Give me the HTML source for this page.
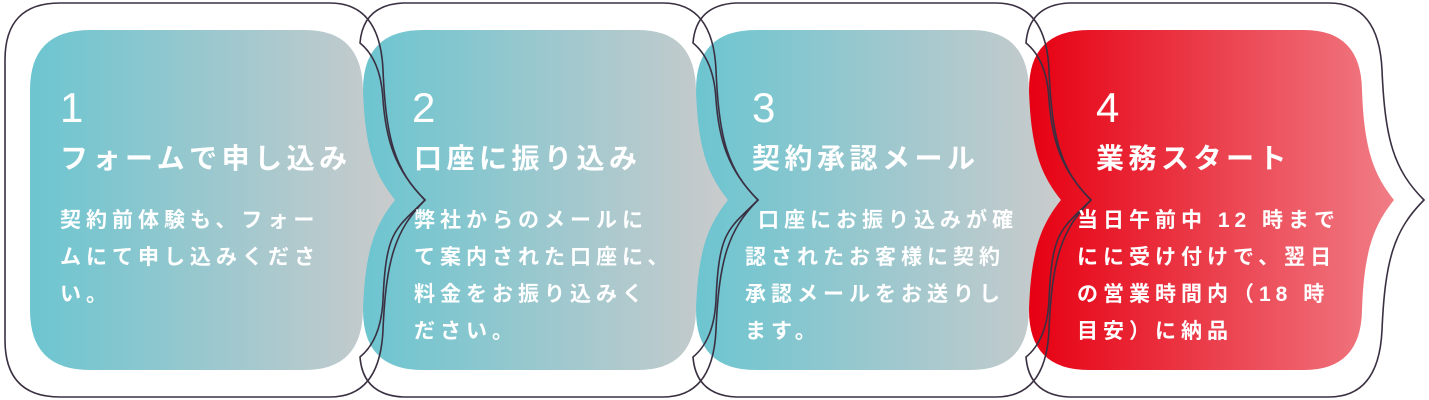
<!DOCTYPE html>
<html><head><meta charset="utf-8"><style>
html,body{margin:0;padding:0;background:#fff;}
svg{display:block;}
.n{font-family:"Liberation Sans Narrow","Liberation Sans",sans-serif;font-size:42px;fill:#fff;}
.t{font-family:"Liberation Sans","Noto Sans CJK JP",sans-serif;font-weight:bold;font-size:28px;fill:#fff;letter-spacing:4.5px;}
.b{font-family:"Liberation Sans","Noto Sans CJK JP",sans-serif;font-weight:bold;font-size:21px;fill:#fff;letter-spacing:5px;}
</style></head><body>
<svg width="1429" height="400" viewBox="0 0 1429 400" xmlns="http://www.w3.org/2000/svg">
<defs>
<linearGradient id="g1" x1="0" x2="1"><stop offset="0" stop-color="#6cc5d0"/><stop offset="1" stop-color="#cacbcc"/></linearGradient>
<linearGradient id="g2" x1="0" x2="1"><stop offset="0" stop-color="#e60012"/><stop offset="1" stop-color="#f07d86"/></linearGradient>
</defs>
<g>
<path fill="url(#g2)" d="M1089,30 H1304 Q1361,30 1362,90 C1364,150 1374,175 1394,200 C1374,225 1364,250 1362,310 Q1361,370 1304,370 H1089 Q1029,370 1029,310 V90 Q1029,30 1089,30 Z"/>
<path fill="url(#g1)" d="M756,30 H971 Q1028,30 1029,90 C1031,150 1041,175 1061,200 C1041,225 1031,250 1029,310 Q1028,370 971,370 H756 Q696,370 696,310 V90 Q696,30 756,30 Z"/>
<path fill="url(#g1)" d="M423,30 H638 Q695,30 696,90 C698,150 708,175 728,200 C708,225 698,250 696,310 Q695,370 638,370 H423 Q363,370 363,310 V90 Q363,30 423,30 Z"/>
<path fill="url(#g1)" d="M90,30 H305 Q362,30 363,90 C365,150 375,175 395,200 C375,225 365,250 363,310 Q362,370 305,370 H90 Q30,370 30,310 V90 Q30,30 90,30 Z"/>
</g>
<g fill="none" stroke="#3a3042" stroke-width="1.6">
<path d="M60,3 H330 Q380,3 383,70 C386,140 395,170 425,200 C395,230 386,260 383,330 Q380,397 330,397 H60 Q5,397 5,340 V60 Q5,3 60,3 Z"/>
<path d="M403,3 H663 Q713,3 716,70 C719,140 728,170 758,200 C728,230 719,260 716,330 Q713,397 663,397 H403 Q363,395 360,357 Q381,340 383,300 C386,230 395,230 425,200 C395,170 386,140 383,100 Q381,60 360,43 Q363,5 403,3 Z"/>
<path d="M736,3 H996 Q1046,3 1049,70 C1052,140 1061,170 1091,200 C1061,230 1052,260 1049,330 Q1046,397 996,397 H736 Q696,395 693,357 Q714,340 716,300 C719,230 728,230 758,200 C728,170 719,140 716,100 Q714,60 693,43 Q696,5 736,3 Z"/>
<path d="M1069,3 H1329 Q1379,3 1382,70 C1385,140 1394,170 1424,200 C1394,230 1385,260 1382,330 Q1379,397 1329,397 H1069 Q1029,395 1026,357 Q1047,340 1049,300 C1052,230 1061,230 1091,200 C1061,170 1052,140 1049,100 Q1047,60 1026,43 Q1029,5 1069,3 Z"/>
</g>
<text class="n" x="60" y="122">1</text>
<text class="t" x="60" y="168">フォームで申し込み</text>
<text class="b" x="60" y="227">契約前体験も、フォー</text>
<text class="b" x="60" y="264">ムにて申し込みくださ</text>
<text class="b" x="60" y="301">い。</text>

<text class="n" x="412" y="122">2</text>
<text class="t" x="414" y="168">口座に振り込み</text>
<text class="b" x="414" y="227">弊社からのメールに</text>
<text class="b" x="414" y="264">て案内された口座に、</text>
<text class="b" x="414" y="301">料金をお振り込みく</text>
<text class="b" x="414" y="338">ださい。</text>

<text class="n" x="752" y="122">3</text>
<text class="t" x="752" y="168">契約承認メール</text>
<text class="b" x="758" y="227">口座にお振り込みが確</text>
<text class="b" x="745" y="264">認されたお客様に契約</text>
<text class="b" x="745" y="301">承認メールをお送りし</text>
<text class="b" x="745" y="338">ます。</text>

<text class="n" x="1096" y="122">4</text>
<text class="t" x="1096" y="168">業務スタート</text>
<text class="b" x="1077" y="227">当日午前中 12 時まで</text>
<text class="b" x="1077" y="264">にに受け付けで、翌日</text>
<text class="b" x="1077" y="301">の営業時間内（18 時</text>
<text class="b" x="1077" y="338">目安）に納品</text>
</svg>
</body></html>
